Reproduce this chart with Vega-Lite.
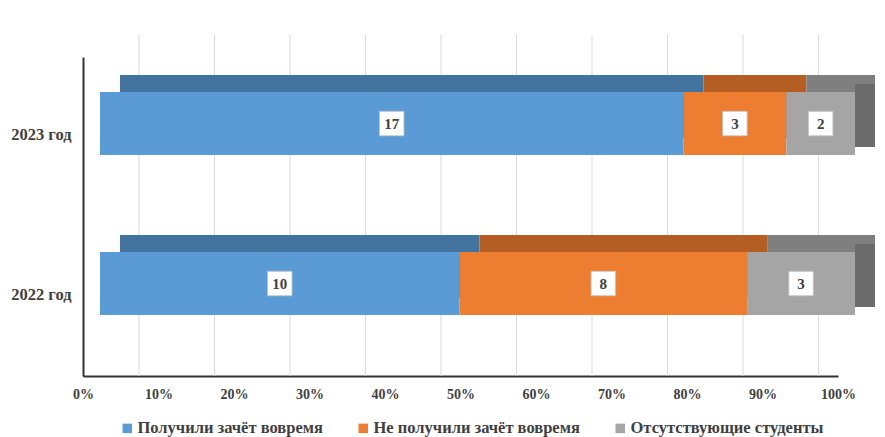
{
  "$schema": "https://vega.github.io/schema/vega-lite/v6.json",
  "width": 755,
  "height": 319,
  "autosize": "none",
  "padding": {"left": 83, "top": 57, "right": 47, "bottom": 61},
  "background": "white",
  "config": {
    "view": {"stroke": null},
    "font": "Liberation Serif",
    "axis": {"labelFont": "Liberation Serif", "labelFontWeight": "bold", "labelColor": "#404040"}
  },
  "layer": [
    {
      "data": {"values": [{"t": 0}, {"t": 0.1}, {"t": 0.2}, {"t": 0.3}, {"t": 0.4}, {"t": 0.5}, {"t": 0.6}, {"t": 0.7}, {"t": 0.8}, {"t": 0.9}, {"t": 1}]},
      "mark": {"type": "rule", "color": "#d9d9d9", "strokeWidth": 1, "xOffset": 56, "yOffset": -22, "y2Offset": -42},
      "encoding": {
        "x": {
          "field": "t", "type": "quantitative",
          "scale": {"domain": [0, 1], "nice": false},
          "title": null,
          "axis": {
            "values": [0, 0.1, 0.2, 0.3, 0.4, 0.5, 0.6, 0.7, 0.8, 0.9, 1],
            "format": ".0%", "grid": false, "labelFontSize": 14,
            "labelFlush": false, "labelPadding": 11,
            "ticks": false, "domain": true, "domainColor": "#333333", "domainWidth": 2
          }
        }
      }
    },
    {
      "data": {
        "values": [
          {"year": "2023 год", "category": "Получили зачёт вовремя", "order": 1, "value": 17},
          {"year": "2023 год", "category": "Не получили зачёт вовремя", "order": 2, "value": 3},
          {"year": "2023 год", "category": "Отсутствующие студенты", "order": 3, "value": 2},
          {"year": "2022 год", "category": "Получили зачёт вовремя", "order": 1, "value": 10},
          {"year": "2022 год", "category": "Не получили зачёт вовремя", "order": 2, "value": 8},
          {"year": "2022 год", "category": "Отсутствующие студенты", "order": 3, "value": 3}
        ]
      },
      "transform": [
        {"stack": "value", "groupby": ["year"], "sort": [{"field": "order"}], "offset": "normalize", "as": ["x0", "x1"]},
        {"calculate": "(datum.x0 + datum.x1) / 2", "as": "mid"}
      ],
      "encoding": {
        "y": {
          "field": "year", "type": "nominal", "sort": ["2023 год", "2022 год"],
          "scale": {"paddingInner": 0.606, "paddingOuter": 0.3, "align": 0.365},
          "title": null,
          "axis": {"domain": true, "domainColor": "#333333", "domainWidth": 2, "ticks": false, "labelPadding": 12, "labelOffset": 11, "labelFontSize": 16.5, "grid": false}
        }
      },
      "layer": [
        {
          "mark": {"type": "bar", "xOffset": 37, "x2Offset": 37, "yOffset": -17, "y2Offset": -17},
          "encoding": {
            "x": {"field": "x0", "type": "quantitative"},
            "x2": {"field": "x1"},
            "color": {
              "field": "category", "type": "nominal",
              "scale": {"domain": ["Получили зачёт вовремя", "Не получили зачёт вовремя", "Отсутствующие студенты"], "range": ["#43739f", "#b45e24", "#7f7f7f"]},
              "legend": null
            }
          }
        },
        {
          "transform": [{"filter": "datum.order == 3"}],
          "mark": {"type": "bar", "color": "#6b6b6b", "xOffset": 17, "x2Offset": 37, "yOffset": -8, "y2Offset": -17},
          "encoding": {
            "x": {"field": "x1", "type": "quantitative"},
            "x2": {"field": "x1"}
          }
        },
        {
          "mark": {"type": "bar", "xOffset": 17, "x2Offset": 17},
          "encoding": {
            "x": {"field": "x0", "type": "quantitative"},
            "x2": {"field": "x1"},
            "color": {
              "field": "category", "type": "nominal",
              "scale": {"domain": ["Получили зачёт вовремя", "Не получили зачёт вовремя", "Отсутствующие студенты"], "range": ["#5b9bd5", "#ed7d31", "#a5a5a5"]},
              "title": null,
              "legend": {
                "orient": "none", "direction": "horizontal", "legendX": 36, "legendY": 363,
                "symbolType": "square", "symbolSize": 90, "symbolStrokeWidth": 0,
                "labelFont": "Liberation Serif", "labelFontWeight": "bold", "labelFontSize": 16.5, "labelColor": "#404040",
                "columnPadding": 32, "labelOffset": 2, "labelLimit": 400
              }
            }
          }
        },
        {
          "mark": {"type": "square", "xOffset": 17, "size": 600, "fill": "white", "opacity": 1, "stroke": "#bfbfbf", "strokeWidth": 0.8},
          "encoding": {
            "x": {"field": "mid", "type": "quantitative"}
          }
        },
        {
          "mark": {"type": "text", "xOffset": 17, "font": "Liberation Serif", "fontWeight": "bold", "fontSize": 15, "color": "#404040", "baseline": "middle"},
          "encoding": {
            "x": {"field": "mid", "type": "quantitative"},
            "text": {"field": "value", "type": "quantitative"}
          }
        }
      ],
      "resolve": {"scale": {"color": "independent"}}
    }
  ]
}
